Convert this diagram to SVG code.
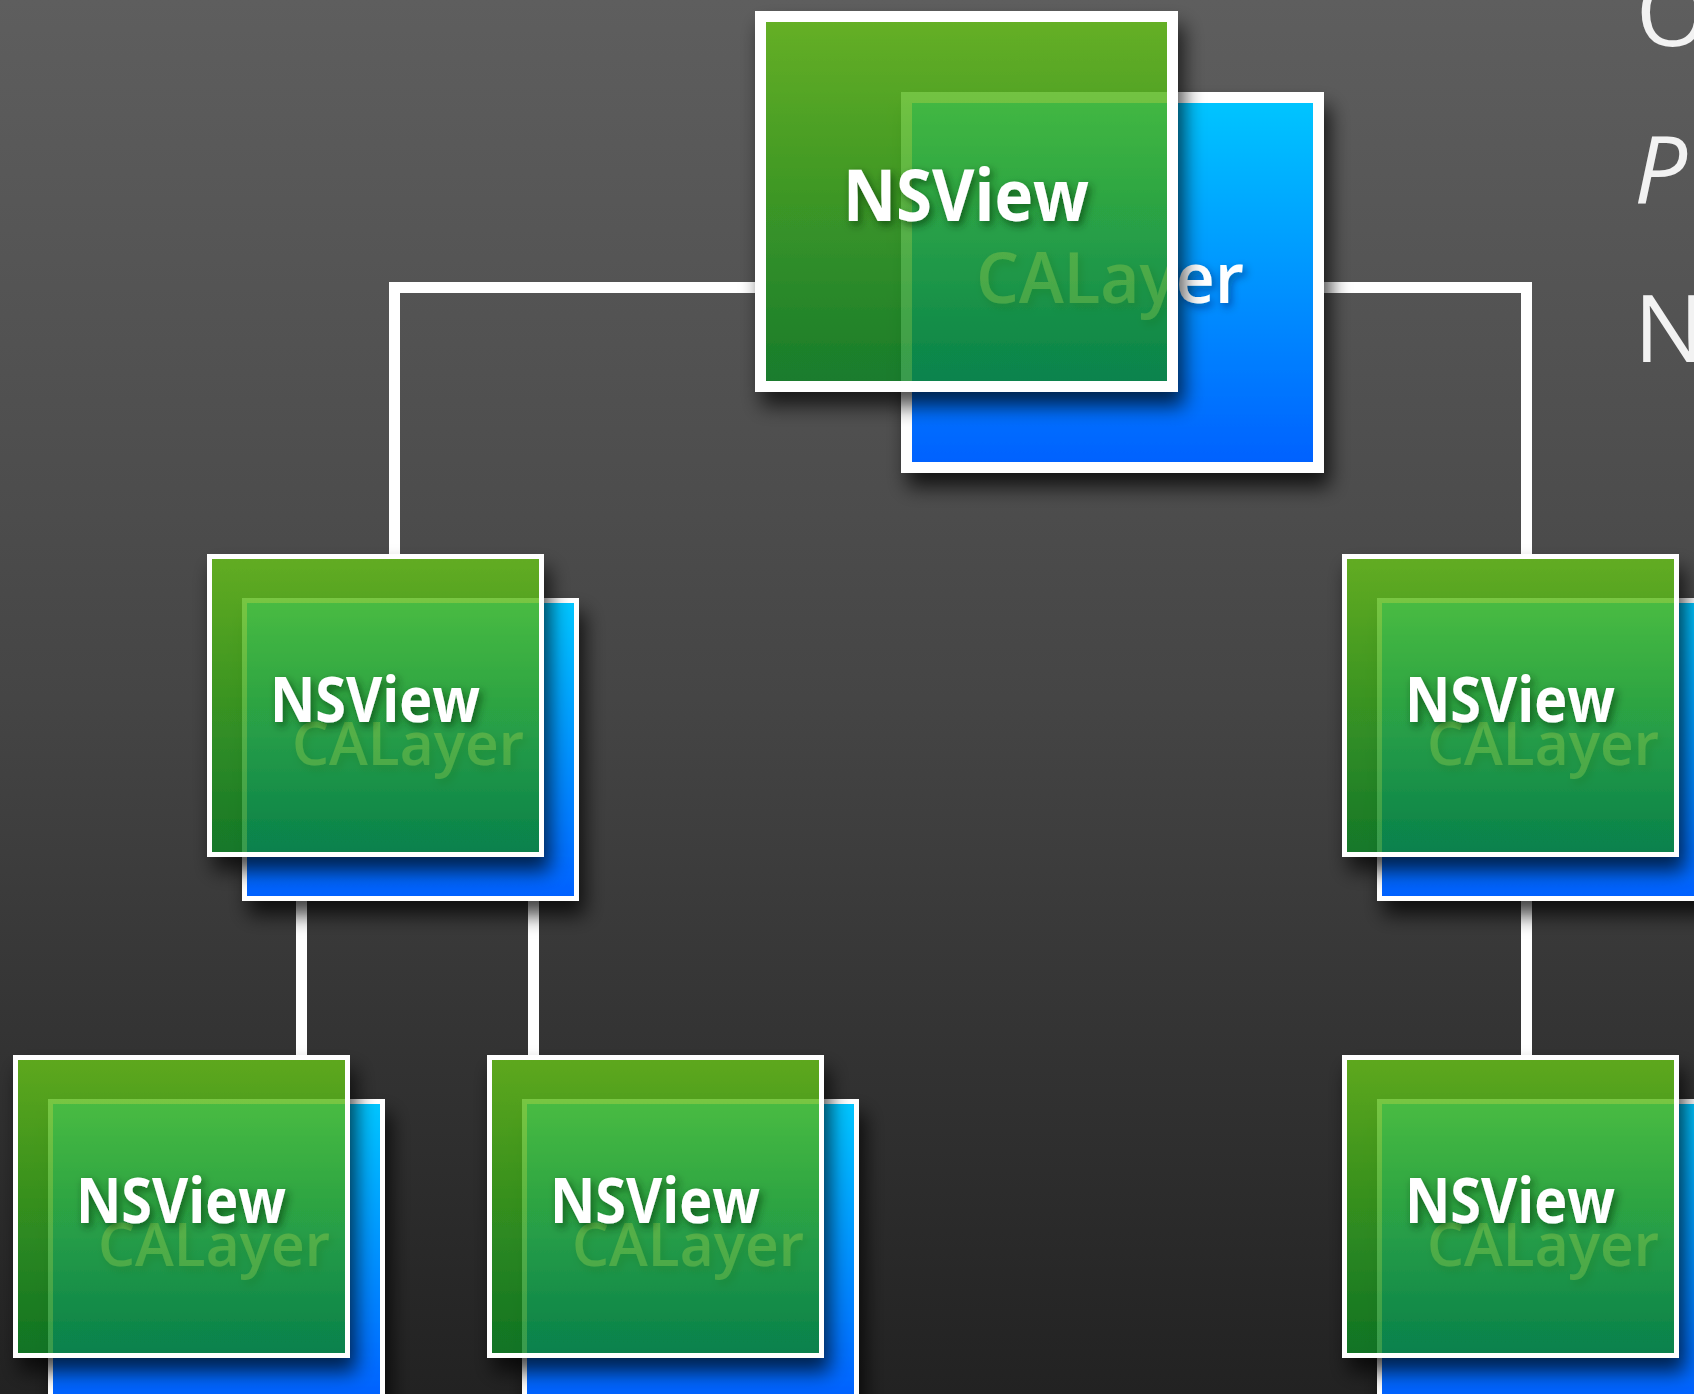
<svg xmlns="http://www.w3.org/2000/svg" width="1694" height="1394" viewBox="0 0 1694 1394">
<defs>
<linearGradient id="bg" x1="0" y1="0" x2="0" y2="1">
<stop offset="0" stop-color="#5e5e5e"/>
<stop offset="0.37" stop-color="#4c4c4c"/>
<stop offset="0.5" stop-color="#454545"/>
<stop offset="0.68" stop-color="#383838"/>
<stop offset="1" stop-color="#222222"/>
</linearGradient>
<linearGradient id="gGreen" x1="0" y1="0" x2="0" y2="1">
<stop offset="0" stop-color="#68c21a"/>
<stop offset="0.5" stop-color="#36a41c"/>
<stop offset="1" stop-color="#0a8424"/>
</linearGradient>
<linearGradient id="gBlue" x1="0" y1="0" x2="0" y2="1">
<stop offset="0" stop-color="#00c6ff"/>
<stop offset="1" stop-color="#0060ff"/>
</linearGradient>
<filter id="boxShadow" x="-20%" y="-20%" width="150%" height="150%">
<feDropShadow dx="6" dy="14" stdDeviation="10" flood-color="#000" flood-opacity="0.75"/>
</filter>
<filter id="greenShadow" x="-20%" y="-20%" width="150%" height="150%">
<feComponentTransfer in="SourceAlpha" result="solid"><feFuncA type="linear" slope="10"/></feComponentTransfer>
<feGaussianBlur in="solid" stdDeviation="10" result="b"/>
<feOffset in="b" dx="6" dy="14" result="o"/>
<feFlood flood-color="#000" flood-opacity="0.7"/>
<feComposite in2="o" operator="in" result="s"/>
<feComposite in="s" in2="solid" operator="out" result="so"/>
<feMerge><feMergeNode in="so"/><feMergeNode in="SourceGraphic"/></feMerge>
</filter>
<filter id="textShadow" x="-10%" y="-30%" width="130%" height="170%">
<feDropShadow dx="3" dy="4" stdDeviation="4" flood-color="#002a00" flood-opacity="0.6"/>
</filter>
<filter id="calShadow" x="-10%" y="-30%" width="130%" height="170%">
<feDropShadow dx="3" dy="4" stdDeviation="4" flood-color="#001a40" flood-opacity="0.45"/>
</filter>
</defs>
<style>
.blue { fill: url(#gBlue); stroke: #ffffff; }
.green { fill: url(#gGreen); fill-opacity: 0.82; stroke: #ffffff; }
.nsv { font-family: "Open Sans", "Noto Sans", "Liberation Sans", sans-serif; font-weight: 700; fill: #ffffff; }
.cal { font-family: "Open Sans", "Noto Sans", "Liberation Sans", sans-serif; font-weight: 600; fill: #ffffff; }
.side { font-family: "Open Sans", "Noto Sans", "Liberation Sans", sans-serif; font-weight: 400; fill: #f2f2f2; font-size: 94px; }
.conn { fill: none; stroke: #ffffff; stroke-width: 11; stroke-linejoin: miter; }
</style>

<rect x="0" y="0" width="1694" height="1394" fill="url(#bg)"/>

<g id="connectors">
<path class="conn" d="M 760 287.5 H 394.5 V 557"/>
<path class="conn" d="M 1320 287.5 H 1526.5 V 557"/>
<path class="conn" d="M 301.5 898 V 1058"/>
<path class="conn" d="M 533.5 898 V 1058"/>
<path class="conn" d="M 1526.5 898 V 1058"/>
</g>

<g id="node-root">
<g filter="url(#boxShadow)"><rect class="blue" x="906.5" y="97.5" width="412" height="370" stroke-width="11"/></g>
<text class="cal" x="976" y="303" font-size="70" textLength="268" lengthAdjust="spacingAndGlyphs" filter="url(#calShadow)">CALayer</text>
<g filter="url(#greenShadow)"><rect class="green" x="760.5" y="16.5" width="412" height="370" stroke-width="11"/></g>
<text class="nsv" x="843" y="221" font-size="72" textLength="246" lengthAdjust="spacingAndGlyphs" filter="url(#textShadow)">NSView</text>
</g>

<g id="node-mid-left" transform="translate(207,554)">
<g filter="url(#boxShadow)"><rect class="blue" x="37.5" y="46.5" width="332" height="298" stroke-width="5"/></g>
<text class="cal" x="85" y="211" font-size="59" textLength="232" lengthAdjust="spacingAndGlyphs" filter="url(#calShadow)">CALayer</text>
<g filter="url(#greenShadow)"><rect class="green" x="2.5" y="2.5" width="332" height="298" stroke-width="5"/></g>
<text class="nsv" x="63" y="168" font-size="62" textLength="210" lengthAdjust="spacingAndGlyphs" filter="url(#textShadow)">NSView</text>
</g>

<g id="node-mid-right" transform="translate(1342,554)">
<g filter="url(#boxShadow)"><rect class="blue" x="37.5" y="46.5" width="332" height="298" stroke-width="5"/></g>
<text class="cal" x="85" y="211" font-size="59" textLength="232" lengthAdjust="spacingAndGlyphs" filter="url(#calShadow)">CALayer</text>
<g filter="url(#greenShadow)"><rect class="green" x="2.5" y="2.5" width="332" height="298" stroke-width="5"/></g>
<text class="nsv" x="63" y="168" font-size="62" textLength="210" lengthAdjust="spacingAndGlyphs" filter="url(#textShadow)">NSView</text>
</g>

<g id="node-bottom-left" transform="translate(13,1055)">
<g filter="url(#boxShadow)"><rect class="blue" x="37.5" y="46.5" width="332" height="298" stroke-width="5"/></g>
<text class="cal" x="85" y="211" font-size="59" textLength="232" lengthAdjust="spacingAndGlyphs" filter="url(#calShadow)">CALayer</text>
<g filter="url(#greenShadow)"><rect class="green" x="2.5" y="2.5" width="332" height="298" stroke-width="5"/></g>
<text class="nsv" x="63" y="168" font-size="62" textLength="210" lengthAdjust="spacingAndGlyphs" filter="url(#textShadow)">NSView</text>
</g>

<g id="node-bottom-mid" transform="translate(487,1055)">
<g filter="url(#boxShadow)"><rect class="blue" x="37.5" y="46.5" width="332" height="298" stroke-width="5"/></g>
<text class="cal" x="85" y="211" font-size="59" textLength="232" lengthAdjust="spacingAndGlyphs" filter="url(#calShadow)">CALayer</text>
<g filter="url(#greenShadow)"><rect class="green" x="2.5" y="2.5" width="332" height="298" stroke-width="5"/></g>
<text class="nsv" x="63" y="168" font-size="62" textLength="210" lengthAdjust="spacingAndGlyphs" filter="url(#textShadow)">NSView</text>
</g>

<g id="node-bottom-right" transform="translate(1342,1055)">
<g filter="url(#boxShadow)"><rect class="blue" x="37.5" y="46.5" width="332" height="298" stroke-width="5"/></g>
<text class="cal" x="85" y="211" font-size="59" textLength="232" lengthAdjust="spacingAndGlyphs" filter="url(#calShadow)">CALayer</text>
<g filter="url(#greenShadow)"><rect class="green" x="2.5" y="2.5" width="332" height="298" stroke-width="5"/></g>
<text class="nsv" x="63" y="168" font-size="62" textLength="210" lengthAdjust="spacingAndGlyphs" filter="url(#textShadow)">NSView</text>
</g>

<g id="side-text">
<text class="side" x="1636" y="46">O</text>
<text class="side" x="1634" y="203" font-style="italic">P</text>
<text class="side" x="1634" y="362">N</text>
</g>
</svg>
